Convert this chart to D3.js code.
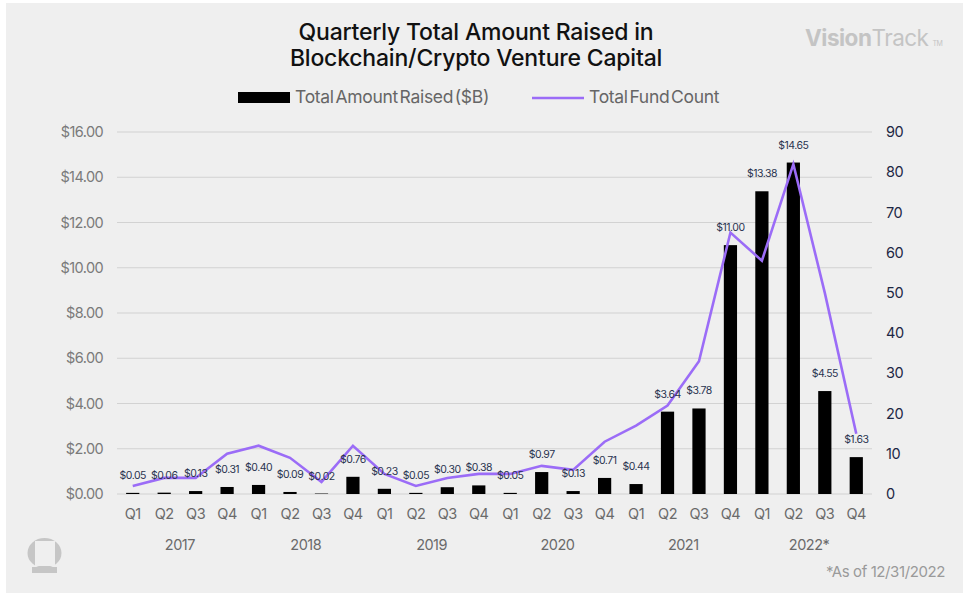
<!DOCTYPE html>
<html>
<head>
<meta charset="utf-8">
<script src="https://cdn.jsdelivr.net/npm/d3@7"></script>
<style>
  body { margin: 0; background: #fff; }
  svg { display: block; font-family: Inter, "Liberation Sans", sans-serif; }
</style>
</head>
<body>
<svg id="chart" width="972" height="596"></svg>
<script>
var quarters = ["Q1","Q2","Q3","Q4","Q1","Q2","Q3","Q4","Q1","Q2","Q3","Q4",
                "Q1","Q2","Q3","Q4","Q1","Q2","Q3","Q4","Q1","Q2","Q3","Q4"];
var years = ["2017","2018","2019","2020","2021","2022*"];
var amountRaised = [0.05,0.06,0.13,0.31,0.40,0.09,0.02,0.76,0.23,0.05,0.30,0.38,
                    0.05,0.97,0.13,0.71,0.44,3.64,3.78,11.00,13.38,14.65,4.55,1.63];
var fundCount = [2,4,4,10,12,9,3,12,5,2,4,5,
                 5,7,6,13,17,22,33,65,58,82,50,15];
var leftTicks = [0,2,4,6,8,10,12,14,16];
var rightTicks = [0,10,20,30,40,50,60,70,80,90];

var svg = d3.select("#chart");

// panel
svg.append("rect").attr("x", 6).attr("y", 3).attr("width", 957).attr("height", 590)
    .attr("fill", "#efefef");

var keys = quarters.map(function(q, i) { return i; });
var x = d3.scaleBand().domain(keys).range([117, 872]),
    yL = d3.scaleLinear().domain([0, 16]).range([494, 132]),
    yR = d3.scaleLinear().domain([0, 90]).range([494, 132]);

// gridlines
svg.append("g").selectAll("line")
    .data(leftTicks)
    .enter().append("line")
    .attr("x1", 117).attr("x2", 872)
    .attr("y1", function(d) { return yL(d); })
    .attr("y2", function(d) { return yL(d); })
    .attr("stroke", "#d2d2d2").attr("stroke-width", 1.2);

// left axis
var axL = svg.append("g")
    .attr("transform", "translate(117,0)")
    .call(d3.axisLeft(yL).tickValues(leftTicks).tickSize(0).tickPadding(14)
      .tickFormat(function(d) { return "$" + d3.format(".2f")(d); }));
axL.select(".domain").remove();
axL.selectAll("text").attr("fill", "#7a7a7a").style("font-size", "14.5px")
    .style("letter-spacing", "-0.6px").style("font-family", "Inter");

// right axis
var axR = svg.append("g")
    .attr("transform", "translate(872,0)")
    .call(d3.axisRight(yR).tickValues(rightTicks).tickSize(0).tickPadding(14));
axR.select(".domain").remove();
axR.selectAll("text").attr("fill", "#1d2744").style("font-size", "14.5px")
    .style("letter-spacing", "-0.4px").style("font-family", "Inter");

// bars
var bw = x.bandwidth() * 0.42;
svg.append("g").selectAll(".bar")
    .data(amountRaised)
    .enter().append("rect")
    .attr("class", "bar")
    .attr("x", function(d, i) { return x(i) + (x.bandwidth() - bw) / 2; })
    .attr("y", function(d) { return yL(d); })
    .attr("width", bw)
    .attr("height", function(d) { return yL(0) - yL(d); })
    .attr("fill", "#000");

// line
var line = d3.line()
    .x(function(d, i) { return x(i) + x.bandwidth() / 2; })
    .y(function(d) { return yR(d); });
svg.append("path")
    .datum(fundCount)
    .attr("d", line)
    .attr("fill", "none")
    .attr("stroke", "#9b6cf7")
    .attr("stroke-width", 2.6)
    .attr("stroke-linejoin", "miter");

// data labels
svg.append("g").selectAll("text")
    .data(amountRaised)
    .enter().append("text")
    .attr("x", function(d, i) { return x(i) + x.bandwidth() / 2; })
    .attr("y", function(d) { return yL(d) - 14; })
    .attr("text-anchor", "middle")
    .attr("fill", "#2a3450")
    .style("font-size", "10.5px")
    .style("letter-spacing", "-0.5px")
    .text(function(d) { return "$" + d3.format(".2f")(d); });

// quarter labels
svg.append("g").selectAll("text")
    .data(quarters)
    .enter().append("text")
    .attr("x", function(d, i) { return x(i) + x.bandwidth() / 2; })
    .attr("y", 519)
    .attr("text-anchor", "middle")
    .attr("fill", "#6a6a6a")
    .style("font-size", "14.5px")
    .style("letter-spacing", "-0.5px")
    .text(function(d) { return d; });

// year labels
svg.append("g").selectAll("text")
    .data(years)
    .enter().append("text")
    .attr("x", function(d, i) { return (x(i * 4) + x(i * 4 + 3) + x.bandwidth()) / 2; })
    .attr("y", 550)
    .attr("text-anchor", "middle")
    .attr("fill", "#6a6a6a")
    .style("font-size", "14.5px")
    .style("letter-spacing", "-0.5px")
    .text(function(d) { return d; });

// title
var title = svg.append("text")
    .attr("text-anchor", "middle")
    .attr("fill", "#111")
    .style("font-size", "23px")
    .style("font-weight", 500)
    .style("letter-spacing", "-0.2px");
title.append("tspan").attr("x", 476).attr("y", 40).text("Quarterly Total Amount Raised in");
title.append("tspan").attr("x", 476).attr("y", 66).text("Blockchain/Crypto Venture Capital");

// legend
svg.append("rect").attr("x", 238).attr("y", 92).attr("width", 52).attr("height", 11).attr("fill", "#000");
svg.append("text").attr("x", 295).attr("y", 103)
    .attr("fill", "#666").style("font-size", "17.5px").style("letter-spacing", "-0.3px")
    .style("word-spacing", "-3px")
    .text("Total Amount Raised ($B)");
svg.append("line").attr("x1", 532).attr("x2", 584).attr("y1", 98).attr("y2", 98)
    .attr("stroke", "#9b6cf7").attr("stroke-width", 2.6);
svg.append("text").attr("x", 589).attr("y", 103)
    .attr("fill", "#666").style("font-size", "17.5px").style("letter-spacing", "-0.3px")
    .style("word-spacing", "-3px")
    .text("Total Fund Count");

// brand
var brand = svg.append("text").attr("x", 805).attr("y", 46)
    .attr("fill", "#c4c4c4").style("font-size", "22.5px").style("letter-spacing", "-0.5px");
brand.append("tspan").style("font-weight", 700).text("Vision");
brand.append("tspan").style("font-weight", 400).text("Track");
brand.append("tspan").attr("dx", 4).style("font-size", "7px").text("TM");

// footnote
svg.append("text").attr("x", 945).attr("y", 577)
    .attr("text-anchor", "end")
    .attr("fill", "#9a9a9a").style("font-size", "15px").style("letter-spacing", "-0.4px")
    .text("*As of 12/31/2022");

// corner logo
var logo = svg.append("g");
logo.append("ellipse").attr("cx", 44.5).attr("cy", 553).attr("rx", 17).attr("ry", 15)
    .attr("fill", "#c6c6c6");
logo.append("rect").attr("x", 35).attr("y", 541).attr("width", 20).attr("height", 25)
    .attr("fill", "#efefef");
logo.append("rect").attr("x", 32).attr("y", 567).attr("width", 25).attr("height", 6)
    .attr("fill", "#c6c6c6");
</script>
</body>
</html>
